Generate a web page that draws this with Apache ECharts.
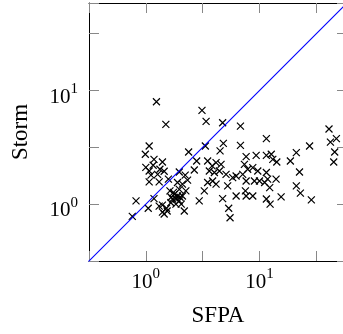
<!DOCTYPE html>
<html><head><meta charset="utf-8">
<script src="https://cdn.jsdelivr.net/npm/echarts@6/dist/echarts.min.js"></script>
<style>html,body{margin:0;padding:0;background:#fff;overflow:hidden}#c{width:349px;height:334px}</style>
</head><body><div id="c"></div>
<script>
const sfpa = [1.24,1.50,3.12,3.39,4.74,6.80,40.9,42.1,47.5,45.9,
45.0,1.07,0.99,1.16,1.40,1.33,1.07,1.11,1.27,1.07,
1.31,1.58,1.97,2.22,2.38,2.80,2.67,2.33,3.34,4.81,
4.50,6.80,11.5,21.1,27.6,7.63,9.35,11.5,12.7,13.1,
14.2,18.7,22.5,3.50,3.83,4.15,4.59,3.62,4.01,4.44,
5.08,5.81,6.23,7.37,7.88,8.73,9.66,7.12,7.63,9.03,
10.0,11.5,11.8,14.0,11.1,12.3,3.50,3.87,4.15,5.25,
3.27,6.23,7.52,7.63,8.73,11.5,12.4,15.5,21.1,22.9,
28.6,4.74,5.36,5.51,2.95,0.82,0.76,1.05,1.18,1.40,
1.45,1.40,1.52,1.63,1.78,1.72,1.90,1.97,1.84,2.10,
2.18,1.97,2.25,2.10,1.90,1.66,
1.67,1.85,2.00,1.75,1.54,1.31,2.05,1.18,1.00,1.45];
const storm = [7.96,5.03,6.68,5.35,5.21,4.86,4.59,3.52,3.77,2.88,
2.35,3.25,2.75,2.20,2.35,2.03,1.96,1.80,1.83,1.57,
1.57,1.66,1.92,1.80,2.88,2.40,2.00,1.63,3.25,3.43,
2.94,3.29,3.77,2.84,3.25,2.62,2.69,2.69,2.75,2.48,
2.35,2.40,1.92,2.40,2.17,2.32,2.24,1.96,1.90,1.96,
1.83,1.71,1.77,2.24,2.03,2.10,1.96,1.83,1.60,1.60,
1.60,1.90,1.66,1.66,1.55,1.40,1.55,1.60,1.50,1.45,
1.31,1.18,1.31,1.18,1.18,1.11,1.00,1.16,1.45,1.25,
1.09,1.12,0.92,0.76,1.07,1.07,0.78,0.92,1.12,0.98,
0.82,0.85,0.92,1.31,1.22,1.11,1.18,1.07,1.00,1.18,
0.87,1.35,1.31,1.50,1.55,1.03,
1.15,1.11,1.15,1.27,0.87,0.96,1.00,2.48,2.11,1.95];
const diagX = [0.3, 60];
const diagY = [0.3, 60];
const axisMin = 0.31623;   // 10^-0.5
const axisMax = 58.9;      // ~10^1.77

const chart = echarts.init(document.getElementById('c'), null, {renderer:'canvas'});
const font = 'Liberation Serif';
function fmt(v){
  const e = Math.log10(v);
  const r = Math.round(e);
  if (Math.abs(e - r) < 1e-6) return '{b|10}{s|' + r + '}';
  return '';
}
const rich = {
  b:{fontFamily:font,fontSize:21,color:'#000',lineHeight:26,verticalAlign:'bottom'},
  s:{fontFamily:font,fontSize:15,color:'#000',lineHeight:14,verticalAlign:'top'}
};
function logAxis(extra){
  return Object.assign({
    type:'log', logBase:10, min:axisMin, max:axisMax, interval:0.5,
    axisLine:{show:true,onZero:false,lineStyle:{color:'#000',width:1}},
    axisTick:{show:true,inside:true,length:10,lineStyle:{color:'#888',width:1}},
    splitLine:{show:false}, minorTick:{show:false}
  }, extra);
}
const option = {
  animation:false,
  textStyle:{fontFamily:font,fontSize:21},
  grid:{left:89,top:3,width:258,height:258,outerBoundsMode:'none',containLabel:false},
  xAxis:[
    logAxis({position:'bottom',name:'SFPA',nameLocation:'middle',nameGap:43,
      nameTextStyle:{fontFamily:font,fontSize:23,color:'#000'},
      axisLabel:{show:true,margin:6,formatter:fmt,rich:rich,fontFamily:font,fontSize:21,color:'#000'}}),
    logAxis({position:'top',axisLabel:{show:false}})
  ],
  yAxis:[
    logAxis({position:'left',name:'Storm',nameLocation:'middle',nameGap:57,nameRotate:90,
      nameTextStyle:{fontFamily:font,fontSize:23,color:'#000'},
      axisLabel:{show:true,margin:11,padding:[8,0,0,0],formatter:fmt,rich:rich,fontFamily:font,fontSize:21,color:'#000'}}),
    logAxis({position:'right',axisLabel:{show:false}})
  ],
  series:[
    {type:'line',data:diagX.map((x,i)=>[x,diagY[i]]),showSymbol:false,symbol:'none',
      color:'blue',itemStyle:{color:'blue'},
      lineStyle:{color:'blue',width:1.1},clip:true,z:3},
    {type:'scatter',data:sfpa.map((x,i)=>[x,storm[i]]),
      symbol:'path://M0,0L10,10M10,0L0,10',symbolSize:7,
      itemStyle:{color:'rgba(0,0,0,0)',borderColor:'#000',borderWidth:1.2,opacity:1},z:2}
  ]
};
chart.setOption(option);
</script></body></html>
